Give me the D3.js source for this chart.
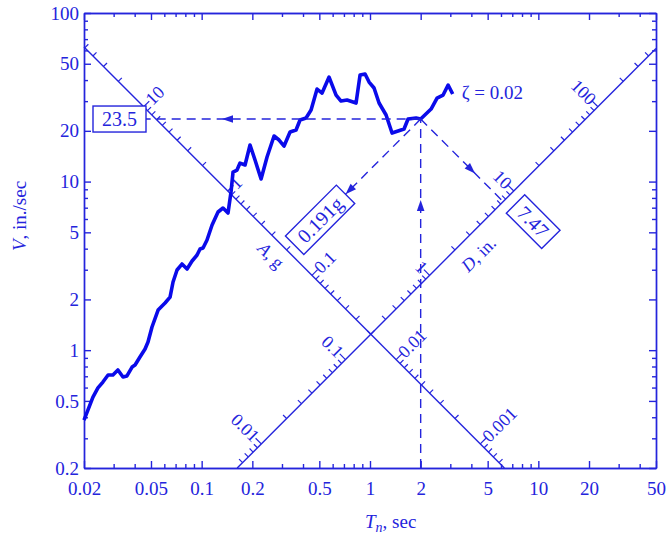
<!DOCTYPE html>
<html>
<head>
<meta charset="utf-8">
<script src="https://cdn.jsdelivr.net/npm/d3@7/dist/d3.min.js"></script>
<style>
  body { margin: 0; background: #fff; }
  svg text { font-family: "Liberation Serif", "DejaVu Serif", serif; }
</style>
</head>
<body>
<svg id="chart" width="666" height="536"></svg>
<script>
// pseudo-velocity response spectrum (tripartite plot), damping 2%
const periods = [0.02, 0.0226, 0.0242, 0.0259, 0.0278, 0.0297, 0.0318, 0.0341, 0.036, 0.0386,
  0.0402, 0.043, 0.0461, 0.048, 0.0507, 0.0551, 0.0606, 0.0649, 0.0676, 0.0714,
  0.0764, 0.0819, 0.0877, 0.0939, 0.0978, 0.1019, 0.1076, 0.1153, 0.1251, 0.1339,
  0.1434, 0.1494, 0.1536, 0.1622, 0.169, 0.181, 0.1938, 0.2075, 0.2254, 0.2446,
  0.2692, 0.2883, 0.3087, 0.335, 0.3636, 0.3841, 0.417, 0.4466, 0.4848, 0.5191,
  0.5713, 0.6287, 0.673, 0.7306, 0.8264, 0.8729, 0.9347, 0.9873, 1.057, 1.132,
  1.246, 1.352, 1.468, 1.593, 1.683, 1.878, 2.0, 2.306, 2.502, 2.718,
  2.911, 3.1];
const velocities = [0.385, 0.527, 0.597, 0.647, 0.712, 0.712, 0.763, 0.693, 0.703, 0.794,
  0.816, 0.911, 1.016, 1.118, 1.372, 1.73, 1.904, 2.066, 2.537, 2.989,
  3.243, 3.03, 3.38, 3.668, 3.98, 4.036, 4.502, 5.525, 6.6, 6.969,
  6.509, 8.67, 11.39, 11.71, 12.88, 12.54, 16.47, 13.42, 10.36, 13.99,
  18.63, 17.64, 16.25, 19.68, 20.22, 23.18, 23.82, 26.57, 35.4, 33.51,
  41.7, 32.61, 30.04, 30.46, 29.24, 42.86, 43.46, 38.95, 35.9, 29.24,
  24.82, 19.41, 19.94, 20.5, 23.5, 23.82, 23.5, 26.94, 31.3, 32.61,
  37.38, 33.08];

const periodTicks = [0.02, 0.05, 0.1, 0.2, 0.5, 1, 2, 5, 10, 20, 50];
const velocityTicks = [0.2, 0.5, 1, 2, 5, 10, 20, 50, 100];
const accelTicks = [10, 1, 0.1, 0.01, 0.001];   // g
const dispTicks = [0.01, 0.1, 1, 10, 100];      // in.

const readPeriod = 2;
const readVelocity = 23.5;
const readVelocityText = '23.5';
const readAccelText = '0.191g';
const readDispText = '7.47';
const dampingText = 'ζ = 0.02';

const gIn = 386.4;        // in./sec^2
const accelAxisD = 0.2;   // A scale sits on the line D = 0.2 in.
const dispAxisA = 0.02;   // D scale sits on the line A = 0.02g

const blue = '#2424dc';
const curveBlue = '#0a0aea';

const svg = d3.select('#chart');
const x = d3.scaleLog().domain([0.02, 50]).range([84, 656]);
const y = d3.scaleLog().domain([0.2, 100]).range([468, 13]);
const px = (T, V) => [x(T), y(V)];

// frame axes, ticks pointing inwards
function frameAxis(axis, scale, transform, labels, withText) {
  const isLabel = v => labels.some(l => Math.abs(l - v) / l < 1e-6);
  const minor = svg.append('g').attr('transform', transform)
    .call(axis(scale).tickValues(scale.ticks().filter(v => !isLabel(v)))
      .tickSizeInner(-4).tickSizeOuter(0).tickFormat(''));
  const major = svg.append('g').attr('transform', transform)
    .call(axis(scale).tickValues(labels).tickSizeInner(-7).tickSizeOuter(0)
      .tickPadding(axis === d3.axisLeft ? 5 : 14)
      .tickFormat(withText ? d => d : ''));
  [minor, major].forEach(s => {
    s.style('color', blue);
    s.selectAll('path.domain, .tick line').attr('stroke-width', 1.4);
  });
  major.selectAll('text').attr('font-size', 19);
}
frameAxis(d3.axisBottom, x, 'translate(0,468)', periodTicks, true);
frameAxis(d3.axisTop, x, 'translate(0,13)', periodTicks, false);
frameAxis(d3.axisLeft, y, 'translate(84,0)', velocityTicks, true);
frameAxis(d3.axisRight, y, 'translate(656,0)', velocityTicks, false);

// where a given A (g) or D (in.) falls on its scale line
const onAccelAxis = a => { const V = Math.sqrt(a * gIn * accelAxisD); return [2 * Math.PI * accelAxisD / V, V]; };
const onDispAxis = d => { const V = Math.sqrt(dispAxisA * gIn * d); return [2 * Math.PI * d / V, V]; };
const inside = ([T, V]) => T >= 0.02 && T <= 50 && V >= 0.2 && V <= 100;

function diagonalAxis(locate, ends, labels, labelAngle, anchor) {
  const p0 = px(...ends[0]), p1 = px(...ends[1]);
  const len = Math.hypot(p1[0] - p0[0], p1[1] - p0[1]);
  const d = [(p1[0] - p0[0]) / len, (p1[1] - p0[1]) / len];
  const n = [d[1], -d[0]];
  const grp = svg.append('g');
  grp.append('line')
    .attr('x1', p0[0]).attr('y1', p0[1]).attr('x2', p1[0]).attr('y2', p1[1])
    .attr('stroke', blue).attr('stroke-width', 1.4);

  const values = [];
  for (let e = -4; e <= 2; e++)
    for (let k = 1; k <= 9; k++) values.push(+(k * Math.pow(10, e)).toPrecision(3));
  const isLabel = v => labels.some(l => Math.abs(l - v) / l < 1e-6);

  grp.selectAll('line.tick')
    .data(values.filter(v => inside(locate(v))))
    .enter().append('line')
    .attr('class', 'tick')
    .each(function (v) {
      const p = px(...locate(v));
      const L = isLabel(v) ? 8 : 5;
      d3.select(this).attr('x1', p[0]).attr('y1', p[1])
        .attr('x2', p[0] + n[0] * L).attr('y2', p[1] + n[1] * L);
    })
    .attr('stroke', blue).attr('stroke-width', 1.2);

  grp.selectAll('text')
    .data(labels)
    .enter().append('text')
    .attr('transform', v => {
      const p = px(...locate(v));
      return `translate(${p[0] + n[0] * 7},${p[1] + n[1] * 7}) rotate(${labelAngle})`;
    })
    .attr('text-anchor', anchor)
    .attr('dominant-baseline', 'central')
    .attr('font-size', 18)
    .attr('fill', blue)
    .text(v => String(v));
  return { n, d };
}

const aAxis = diagonalAxis(onAccelAxis,
  [[0.02, 2 * Math.PI * accelAxisD / 0.02], [2 * Math.PI * accelAxisD / 0.2, 0.2]],
  accelTicks, -45, 'start');
const kD = dispAxisA * gIn / (2 * Math.PI);
const dAxis = diagonalAxis(onDispAxis,
  [[0.2 / kD, 0.2], [50, 50 * kD]],
  dispTicks, 45, 'end');

// scale names
function axisName(p, off, angle, parts) {
  const t = svg.append('text')
    .attr('transform', `translate(${p[0] + off[0]},${p[1] + off[1]}) rotate(${angle})`)
    .attr('text-anchor', 'middle').attr('dominant-baseline', 'central')
    .attr('font-size', 18).attr('fill', blue);
  parts.forEach(([s, it]) => t.append('tspan').attr('font-style', it ? 'italic' : null).text(s));
}
const pA = px(...onAccelAxis(0.23));
axisName(pA, [-aAxis.n[0] * 15, -aAxis.n[1] * 15], 45, [['A', true], [', g', false]]);
const pD = px(...onDispAxis(2.6));
axisName(pD, [-dAxis.n[0] * 20, -dAxis.n[1] * 20], -45, [['D', true], [', in.', false]]);

// spectrum curve
svg.append('path')
  .datum(d3.zip(periods, velocities))
  .attr('d', d3.line().x(d => x(d[0])).y(d => y(d[1])))
  .attr('fill', 'none')
  .attr('stroke', curveBlue)
  .attr('stroke-width', 3.6)
  .attr('stroke-linejoin', 'round');

const last = px(periods[periods.length - 1], velocities[velocities.length - 1]);
svg.append('text')
  .attr('x', last[0] + 9).attr('y', last[1] + 5)
  .attr('font-size', 19).attr('fill', blue)
  .text(dampingText);

// read-off lines at T = 2 sec
const P = px(readPeriod, readVelocity);
const unit = (a, b) => { const l = Math.hypot(b[0] - a[0], b[1] - a[1]); return [(b[0] - a[0]) / l, (b[1] - a[1]) / l]; };

const vOverT = readVelocity / readPeriod;
const Ta = Math.sqrt(2 * Math.PI * accelAxisD / vOverT);
const aHit = px(Ta, vOverT * Ta);
const uA = unit(aHit, P);
const aBoxC = [aHit[0] + uA[0] * 45, aHit[1] + uA[1] * 45];
const aBoxEnd = [aHit[0] + uA[0] * 81, aHit[1] + uA[1] * 81];

const vTimesT = readVelocity * readPeriod;
const Td = Math.sqrt(vTimesT / kD);
const dHit = px(Td, kD * Td);
const uD = unit(P, dHit);

function dashed(a, b) {
  svg.append('line')
    .attr('x1', a[0]).attr('y1', a[1]).attr('x2', b[0]).attr('y2', b[1])
    .attr('stroke', blue).attr('stroke-width', 1.4)
    .attr('stroke-dasharray', '9,6');
}
function arrowHead(tip, dir) {
  const L = 11, W = 3.8;
  const bx = tip[0] - dir[0] * L, by = tip[1] - dir[1] * L;
  svg.append('path')
    .attr('d', `M${tip[0]},${tip[1]}L${bx - dir[1] * W},${by + dir[0] * W}L${bx + dir[1] * W},${by - dir[0] * W}Z`)
    .attr('fill', blue);
}

dashed(P, [146, P[1]]);
arrowHead([222, P[1]], [-1, 0]);
dashed([P[0], 468], P);
arrowHead([P[0], 200], [0, -1]);
dashed(P, aBoxEnd);
arrowHead(aBoxEnd, [-uA[0], -uA[1]]);
dashed(P, dHit);
arrowHead([P[0] + uD[0] * 77, P[1] + uD[1] * 77], uD);

// value boxes
function valueBox(c, angle, w, h, label) {
  const grp = svg.append('g').attr('transform', `translate(${c[0]},${c[1]}) rotate(${angle})`);
  grp.append('rect')
    .attr('x', -w / 2).attr('y', -h / 2).attr('width', w).attr('height', h)
    .attr('fill', '#fff').attr('stroke', blue).attr('stroke-width', 1.4);
  grp.append('text')
    .attr('text-anchor', 'middle').attr('dominant-baseline', 'central')
    .attr('font-size', 20).attr('fill', blue)
    .text(label);
}
valueBox([119.5, P[1]], 0, 53, 26, readVelocityText);
valueBox(aBoxC, -45, 72, 26, readAccelText);
valueBox([dHit[0] + 30, dHit[1] + 20], 45, 50, 26, readDispText);

// axis titles
const xt = svg.append('text').attr('x', 365).attr('y', 528).attr('font-size', 19).attr('fill', blue);
xt.append('tspan').attr('font-style', 'italic').text('T');
xt.append('tspan').attr('font-style', 'italic').attr('font-size', 14).attr('dy', 4).text('n');
xt.append('tspan').attr('dy', -4).text(', sec');

const yt = svg.append('text')
  .attr('transform', 'translate(26,216) rotate(-90)')
  .attr('text-anchor', 'middle')
  .attr('font-size', 19).attr('fill', blue);
yt.append('tspan').attr('font-style', 'italic').text('V');
yt.append('tspan').text(', in./sec');
</script>
</body>
</html>
